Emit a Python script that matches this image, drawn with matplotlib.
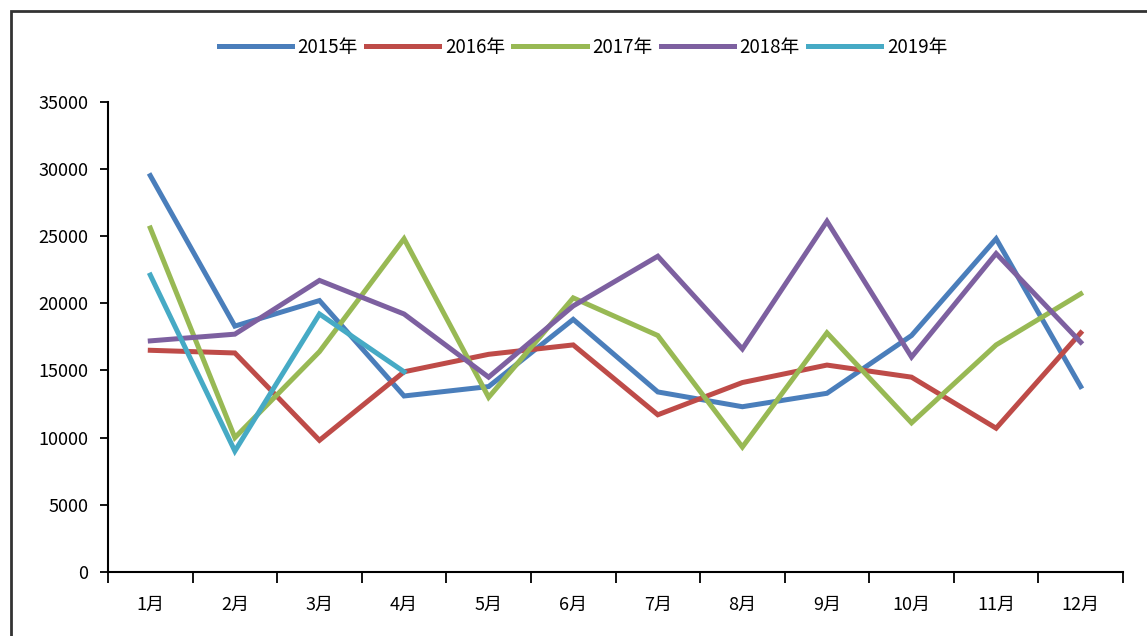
import numpy as np
import matplotlib.pyplot as plt
from matplotlib.patches import Rectangle

plt.rcParams['font.family'] = ['Noto Sans CJK SC', 'DejaVu Sans']

# data
months = ['1月', '2月', '3月', '4月', '5月', '6月', '7月', '8月', '9月', '10月', '11月', '12月']
y2015 = [29500, 18300, 20200, 13100, 13800, 18800, 13400, 12300, 13300, 17600, 24800, 13800]
y2016 = [16500, 16300, 9800, 14900, 16200, 16900, 11700, 14100, 15400, 14500, 10700, 17800]
y2017 = [25600, 10000, 16400, 24800, 13000, 20400, 17600, 9300, 17800, 11100, 16900, 20700]
y2018 = [17200, 17700, 21700, 19200, 14500, 19800, 23500, 16600, 26100, 16000, 23700, 17100]
y2019 = [22100, 9000, 19200, 14900]

series = [('2015年', y2015, '#4A7EBB'),
          ('2016年', y2016, '#BE4B48'),
          ('2017年', y2017, '#98B954'),
          ('2018年', y2018, '#7D60A0'),
          ('2019年', y2019, '#46AAC5')]

fig = plt.figure(figsize=(11.47, 6.36), dpi=100)
ax = fig.add_axes([108/1147, 1-572/636, (1123-108)/1147, (572-101.7)/636])

# outer chart frame
fig.patches.append(Rectangle((11/1147, -0.05), 1.2, 1-11/636+0.05, transform=fig.transFigure,
                             fill=False, edgecolor='#333333', linewidth=2))

x = np.arange(len(months))
for name, vals, col in series:
    ax.plot(x[:len(vals)], vals, color=col, linewidth=3.6, label=name, solid_joinstyle='miter')

ax.set_xlim(-0.5, 11.5)
ax.set_ylim(0, 35000)
ax.set_yticks(np.arange(0, 35001, 5000))
ax.set_xticks(x)
ax.set_xticklabels(months)
ax.set_xticks(np.arange(-0.5, 12, 1), minor=True)
ax.tick_params(axis='x', which='major', length=0, pad=17, labelsize=13)
ax.tick_params(axis='x', which='minor', length=8, width=1.3, direction='out')
ax.tick_params(axis='y', length=6, width=1.3, labelsize=13, pad=8)
for s in ['top', 'right']:
    ax.spines[s].set_visible(False)
for s in ['left', 'bottom']:
    ax.spines[s].set_linewidth(1.5)

fig.legend(loc='center', bbox_to_anchor=(583/1147, 1-47/636), ncol=5, frameon=False,
           fontsize=13.5, handlelength=3.9, handletextpad=0.3, columnspacing=0.45)

fig.savefig('out.png', dpi=100)
